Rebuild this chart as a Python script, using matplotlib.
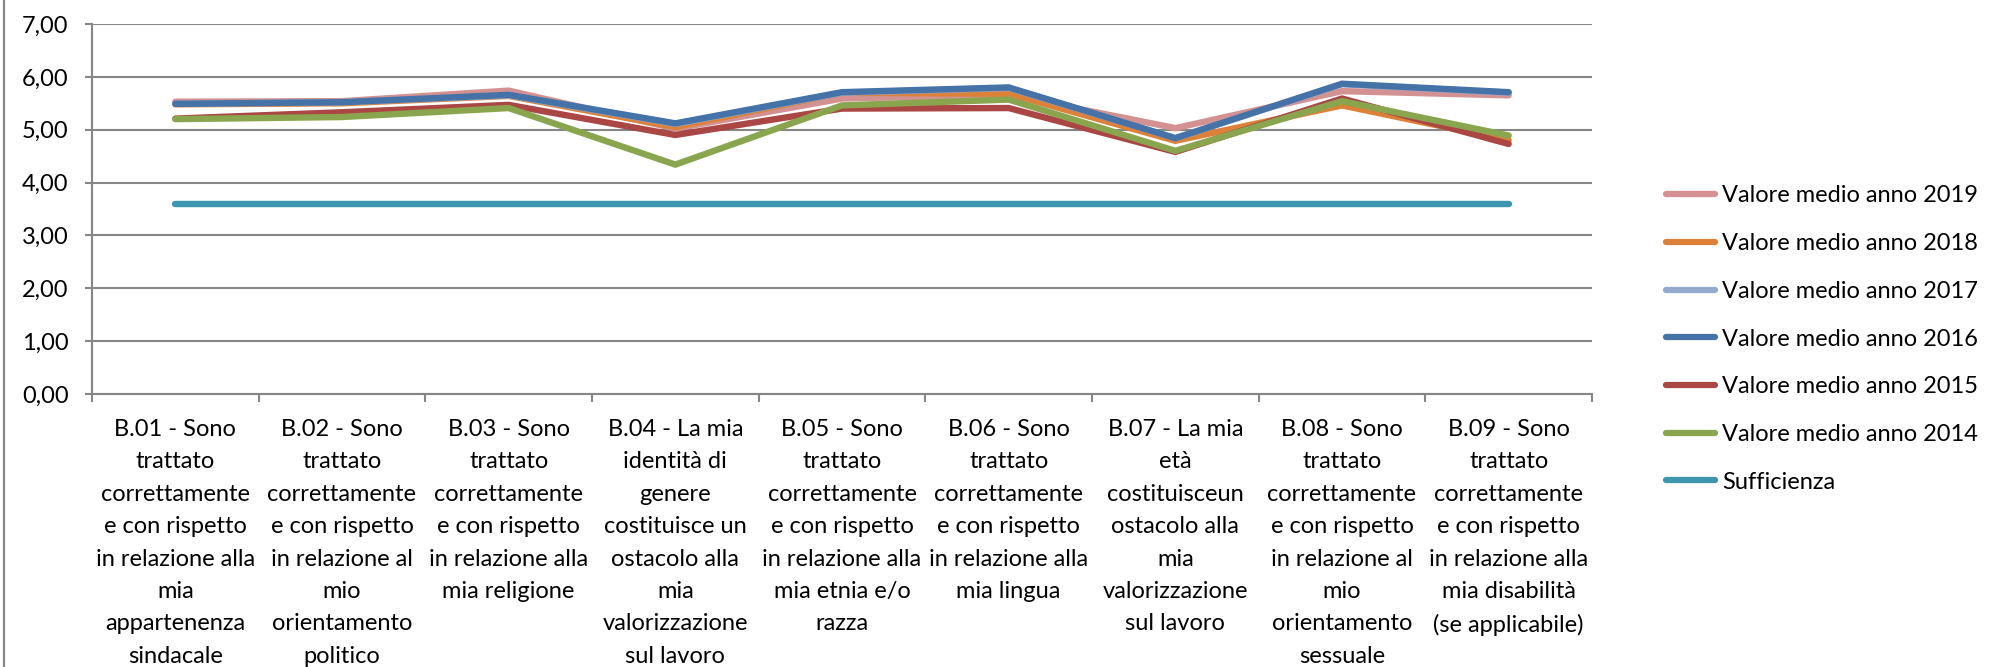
import numpy as np
import matplotlib
matplotlib.use("Agg")
import matplotlib.pyplot as plt
from matplotlib import font_manager
from matplotlib.lines import Line2D

# category labels (wrapped like the original)
categorie = [
    "B.01 - Sono\ntrattato\ncorrettamente\ne con rispetto\nin relazione alla\nmia\nappartenenza\nsindacale",
    "B.02 - Sono\ntrattato\ncorrettamente\ne con rispetto\nin relazione al\nmio\norientamento\npolitico",
    "B.03 - Sono\ntrattato\ncorrettamente\ne con rispetto\nin relazione alla\nmia religione",
    "B.04 - La mia\nidentità di\ngenere\ncostituisce un\nostacolo alla\nmia\nvalorizzazione\nsul lavoro",
    "B.05 - Sono\ntrattato\ncorrettamente\ne con rispetto\nin relazione alla\nmia etnia e/o\nrazza",
    "B.06 - Sono\ntrattato\ncorrettamente\ne con rispetto\nin relazione alla\nmia lingua",
    "B.07 - La mia\netà\ncostituisceun\nostacolo alla\nmia\nvalorizzazione\nsul lavoro",
    "B.08 - Sono\ntrattato\ncorrettamente\ne con rispetto\nin relazione al\nmio\norientamento\nsessuale",
    "B.09 - Sono\ntrattato\ncorrettamente\ne con rispetto\nin relazione alla\nmia disabilità\n(se applicabile)",
]

anno_2019 = [5.53, 5.54, 5.74, 5.02, 5.59, 5.66, 5.03, 5.73, 5.65]
anno_2018 = [5.48, 5.50, 5.64, 5.05, 5.70, 5.68, 4.79, 5.46, 4.80]
anno_2017 = [5.49, 5.52, 5.65, 5.11, 5.70, 5.79, 4.84, 5.86, 5.70]
anno_2016 = [5.49, 5.52, 5.66, 5.12, 5.71, 5.80, 4.84, 5.87, 5.71]
anno_2015 = [5.21, 5.33, 5.47, 4.90, 5.40, 5.41, 4.58, 5.59, 4.73]
anno_2014 = [5.20, 5.24, 5.41, 4.34, 5.46, 5.57, 4.60, 5.54, 4.89]
sufficienza = [3.60] * 9

serie = [
    ("Valore medio anno 2019", anno_2019, "#D39291"),
    ("Valore medio anno 2018", anno_2018, "#DD8138"),
    ("Valore medio anno 2017", anno_2017, "#93A9CF"),
    ("Valore medio anno 2016", anno_2016, "#4572A7"),
    ("Valore medio anno 2015", anno_2015, "#AA4643"),
    ("Valore medio anno 2014", anno_2014, "#89A54E"),
    ("Sufficienza", sufficienza, "#3D96AE"),
]

# pick a narrow font if there is one
nomi = {f.name for f in font_manager.fontManager.ttflist}
font = "Liberation Sans Narrow" if "Liberation Sans Narrow" in nomi else "Lato"
plt.rcParams["font.family"] = [font, "DejaVu Sans"]
FS = 17

W, H = 1993, 667
AX_BOTTOM = 394  # pixel row of the x axis
fig = plt.figure(figsize=(W / 100, H / 100), dpi=100)
ax = fig.add_axes([92 / W, 1 - AX_BOTTOM / H, (1592 - 92) / W, (AX_BOTTOM - 24) / H])

x = np.arange(len(categorie))
for nome, valori, colore in serie:
    ax.plot(x, valori, color=colore, lw=4.6, solid_capstyle="round",
            solid_joinstyle="miter", label=nome)

grigio = "#868686"
ax.set_xlim(-0.5, len(categorie) - 0.5)
ax.set_ylim(0, 7)
ax.set_yticks(np.arange(0, 8, 1))
ax.set_yticklabels([f"{v:.2f}".replace(".", ",") for v in range(8)], fontsize=FS)
ax.grid(axis="y", color=grigio, lw=1.5)
ax.set_axisbelow(True)

# line pitch of the category labels ~32 px, first baseline at ~436 px
# (matplotlib pitch = linespacing * (h - d) + d)
renderer = fig.canvas.get_renderer()
prop = font_manager.FontProperties(family=[font, "DejaVu Sans"], size=FS)
_, lp_h, lp_d = renderer.get_text_width_height_descent("lp", prop, ismath=False)
interlinea = (32.4 - lp_d) / (lp_h - lp_d)
pad_px = (436 - (lp_h - lp_d)) - AX_BOTTOM

ax.set_xticks(x)
ax.set_xticklabels(categorie, fontsize=FS, linespacing=interlinea, va="top")
ax.set_xticks(np.arange(-0.5, len(categorie)), minor=True)
ax.tick_params(axis="x", which="major", length=0, pad=pad_px * 72 / 100)
ax.tick_params(axis="x", which="minor", length=6, width=1.5, color=grigio)
ax.tick_params(axis="y", length=5, width=1.5, color=grigio, pad=12)

for lato in ["top", "right"]:
    ax.spines[lato].set_visible(False)
for lato in ["left", "bottom"]:
    ax.spines[lato].set_color(grigio)
    ax.spines[lato].set_linewidth(1.5)

# chart area border on the left
fig.add_artist(Line2D([4 / W, 4 / W], [0, 1], color=grigio, lw=1.5))

handles = [Line2D([], [], color=c, lw=4.5, solid_capstyle="round") for _, _, c in serie]
fig.legend(handles, [n for n, _, _ in serie], loc="center left",
           bbox_to_anchor=(1666 / W, 1 - 339 / H), frameon=False, fontsize=FS,
           handlelength=2.07, handletextpad=0.3, labelspacing=1.13,
           borderpad=0, borderaxespad=0)

fig.savefig("out.png", dpi=100)
